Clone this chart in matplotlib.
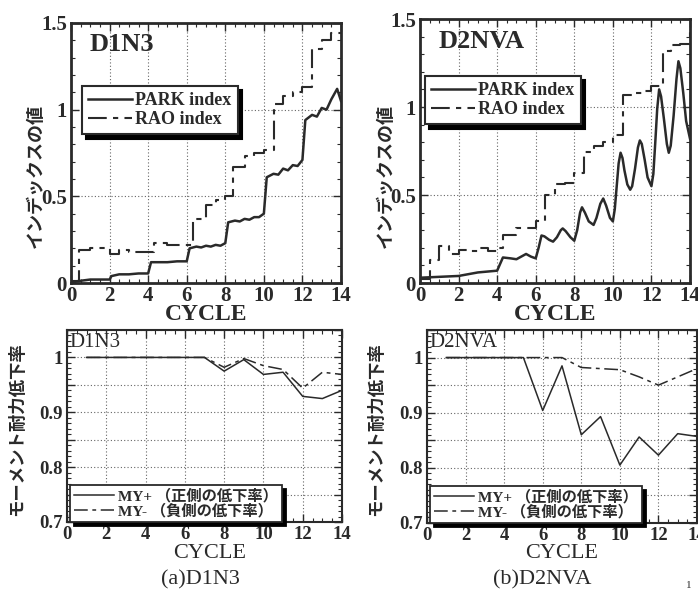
import matplotlib
matplotlib.use("Agg")
import matplotlib.pyplot as plt
from matplotlib.ticker import MultipleLocator, FuncFormatter

# ---- data ----
# D1N3 damage indices
d1_park_x = [0, 0.3, 1, 2, 2.1, 2.5, 3, 3.5, 4, 4.15, 4.5, 5, 5.5, 6, 6.15, 6.5, 6.75, 7, 7.25,
             7.5, 7.75, 8, 8.15, 8.5, 8.75, 9, 9.25, 9.5, 9.75, 10, 10.15, 10.5, 10.75, 11, 11.25,
             11.5, 11.75, 12, 12.15, 12.5, 12.75, 13, 13.25, 13.5, 13.8, 14]
d1_park_y = [0.0, 0.01, 0.02, 0.02, 0.04, 0.05, 0.05, 0.055, 0.055, 0.12, 0.12, 0.12, 0.125, 0.125,
             0.2, 0.21, 0.205, 0.215, 0.21, 0.22, 0.215, 0.23, 0.35, 0.36, 0.355, 0.37, 0.365, 0.38,
             0.38, 0.40, 0.61, 0.63, 0.625, 0.66, 0.65, 0.68, 0.675, 0.71, 0.94, 0.97, 0.96, 1.01,
             1.0, 1.06, 1.12, 1.05]
d1_rao_x = [0, 0.4, 1.0, 2.0, 2.5, 3.0, 4.3, 5.0, 6.3, 7.0, 7.5, 8.0, 8.4, 9.0, 9.5, 10.0,
            10.5, 11.0, 11.5, 12.0, 12.5, 13.0, 13.5, 14.0]
d1_rao_y = [0.01, 0.19, 0.20, 0.17, 0.19, 0.18, 0.23, 0.22, 0.37, 0.45, 0.48, 0.50, 0.67, 0.73,
            0.75, 0.77, 1.03, 1.08, 1.10, 1.13, 1.35, 1.40, 1.44, 1.44]

# D2NVA damage indices
d2_park_x = [0, 1, 2, 3, 4, 4.2, 4.3, 4.7, 5.0, 5.25, 5.5, 5.75, 6.0,
             6.15, 6.3, 6.45, 6.7, 6.9, 7.1, 7.3, 7.4, 7.55, 7.8, 8.0,
             8.15, 8.3, 8.4, 8.55, 8.75, 9.0, 9.15, 9.35, 9.5, 9.65, 9.85, 10.0,
             10.1, 10.2, 10.3, 10.4, 10.5, 10.6, 10.75, 10.9, 11.0, 11.15, 11.3, 11.4, 11.5,
             11.65, 11.8, 12.0, 12.1, 12.2, 12.3, 12.4, 12.5, 12.65, 12.8, 12.9, 13.0, 13.15,
             13.3, 13.4, 13.5, 13.65, 13.8, 14.0]
d2_park_y = [0.03, 0.035, 0.04, 0.06, 0.07, 0.12, 0.145, 0.14, 0.135, 0.15, 0.165, 0.15, 0.14,
             0.20, 0.27, 0.265, 0.245, 0.235, 0.26, 0.30, 0.31, 0.295, 0.26, 0.24,
             0.30, 0.40, 0.43, 0.40, 0.35, 0.33, 0.37, 0.45, 0.48, 0.44, 0.37, 0.35,
             0.42, 0.55, 0.68, 0.74, 0.71, 0.64, 0.56, 0.53, 0.55, 0.65, 0.77, 0.81, 0.79,
             0.70, 0.60, 0.55, 0.62, 0.80, 0.99, 1.10, 1.06, 0.93, 0.79, 0.74, 0.78, 0.95,
             1.16, 1.26, 1.22, 1.08, 0.92, 0.82]
d2_rao_x = [0, 0.5, 1.0, 1.5, 2.0, 2.5, 3.0, 3.5, 4.0, 4.3, 5.0, 5.5, 6.0, 6.5, 7.0, 7.5, 8.0,
            8.5, 9.0, 9.5, 10.0, 10.5, 11.0, 11.5, 12.0, 12.6, 13.0, 13.5, 14.0]
d2_rao_y = [0.02, 0.13, 0.21, 0.165, 0.19, 0.18, 0.20, 0.18, 0.20, 0.27, 0.31, 0.31, 0.35, 0.50,
            0.56, 0.57, 0.625, 0.745, 0.78, 0.80, 0.84, 1.07, 1.08, 1.09, 1.12, 1.32, 1.35, 1.36,
            1.43]

# strength reduction ratios
cyc = [1, 2, 3, 4, 5, 6, 7, 8, 9, 10, 11, 12, 13, 14]
d1_myp = [1, 1, 1, 1, 1, 1, 1, 0.975, 0.996, 0.969, 0.973, 0.929, 0.925, 0.94]
d1_mym = [1, 1, 1, 1, 1, 1, 1, 0.982, 0.998, 0.985, 0.978, 0.944, 0.973, 0.969]
d2_myp = [1, 1, 1, 1, 1, 0.904, 0.985, 0.86, 0.893, 0.805, 0.856, 0.823, 0.862, 0.857]
d2_mym = [1, 1, 1, 1, 1, 1, 1, 0.982, 0.98, 0.978, 0.965, 0.95, 0.965, 0.98]

SERIF = ["Liberation Serif", "Noto Sans CJK JP"]
JP = ["Noto Sans CJK JP", "DejaVu Sans"]
INK = "#2a2a2a"
DASHDOT = (0, (9, 3, 2.5, 3))

plt.rcParams["font.family"] = SERIF

fig = plt.figure(figsize=(6.98, 5.93), dpi=100)
W, H = 698, 593


def ax_px(l, t, r, b):
    return fig.add_axes([l / W, 1 - b / H, (r - l) / W, (b - t) / H])


def style(ax, ymaj, ymin, xmin, lw, fs, fmt):
    ax.set_xlim(0, 14)
    ax.xaxis.set_major_locator(MultipleLocator(2))
    ax.xaxis.set_minor_locator(MultipleLocator(xmin))
    ax.yaxis.set_major_locator(MultipleLocator(ymaj))
    ax.yaxis.set_minor_locator(MultipleLocator(ymin))
    ax.yaxis.set_major_formatter(FuncFormatter(fmt))
    ax.tick_params(which="both", direction="in", top=True, right=True, color=INK)
    ax.tick_params(which="major", length=6, width=1, pad=3)
    ax.tick_params(which="minor", length=3, width=0.8)
    for lab in ax.get_xticklabels() + ax.get_yticklabels():
        lab.set_fontsize(fs)
        lab.set_fontweight("bold")
        lab.set_color(INK)
    for s in ax.spines.values():
        s.set_linewidth(lw)
        s.set_color(INK)
    ax.grid(True, which="major", linestyle=(0, (1, 2)), color="#666666", linewidth=0.8)
    ax.set_axisbelow(True)


def fmt_top(v, pos):
    if abs(v) < 1e-9:
        return "0"
    if abs(v - round(v)) < 1e-9:
        return "%d" % round(v)
    return "%.1f" % v


def fmt_bot(v, pos):
    r = round(v * 10)
    if abs(v * 10 - r) > 1e-6:
        return ""
    return "1" if r == 10 else "%.1f" % v


shadow = {"ox": 3, "oy": -3, "facecolor": "black", "edgecolor": "black", "alpha": 1}

# ---- top row ----
tops = [
    (ax_px(71, 23, 341, 283), d1_park_x, d1_park_y, d1_rao_x, d1_rao_y, "D1N3", (0.041, 0.758), 35, 206),
    (ax_px(420, 19, 690, 283), d2_park_x, d2_park_y, d2_rao_x, d2_rao_y, "D2NVA", (0.019, 0.784), 385, 555),
]
for ax, px, py, rx, ry, name, anchor, ylx, cx in tops:
    ax.plot(px, py, color=INK, lw=1.8, solid_joinstyle="round", label="PARK index")
    ax.plot(rx, ry, color=INK, lw=1.5, ls=DASHDOT, drawstyle="steps-post", label="RAO index")
    ax.set_ylim(0, 1.5)
    style(ax, 0.5, 0.1, 0.5, 2.0, 15, fmt_top)
    ax.tick_params(axis="x", pad=2)
    ax.text(0.07, 0.96, name, transform=ax.transAxes, ha="left", va="top",
            fontsize=19, fontweight="bold", color=INK)
    leg = ax.legend(loc="upper left", bbox_to_anchor=anchor, borderaxespad=0,
                    frameon=True, fancybox=False, shadow=shadow, handlelength=2.4,
                    handletextpad=0.2, borderpad=0.35, labelspacing=0.1,
                    prop={"family": SERIF, "weight": "bold", "size": 13})
    leg.get_frame().set_edgecolor(INK)
    leg.get_frame().set_linewidth(1.5)
    for t in leg.get_texts():
        t.set_color(INK)
    fig.text(ylx / W, 1 - 176 / H, "インデックスの値", rotation=90, ha="center", va="center",
             fontsize=13, fontweight="bold", family=JP, color=INK)
    fig.text(cx / W, 1 - 315 / H, "CYCLE", ha="center", va="center",
             fontsize=17, fontweight="bold", color=INK)

# ---- bottom row ----
bots = [
    (ax_px(67, 330, 342, 522), d1_myp, d1_mym, "D1N3", 17, 210, "(a)D1N3", 200),
    (ax_px(427, 330, 697, 523), d2_myp, d2_mym, "D2NVA", 376, 562, "(b)D2NVA", 542),
]
for ax, yp, ym, name, ylx, cx, cap, capx in bots:
    ax.plot(cyc, yp, color=INK, lw=1.1, label="MY+ （正側の低下率）")
    ax.plot(cyc, ym, color=INK, lw=1.1, ls=DASHDOT, label="MY- （負側の低下率）")
    ax.set_ylim(0.7, 1.05)
    style(ax, 0.05, 0.01, 0.5, 1.5, 13.5, fmt_bot)
    ax.text(0.01, 0.985, name, transform=ax.transAxes, ha="left", va="top",
            fontsize=15, color=INK)
    leg = ax.legend(loc="lower left", bbox_to_anchor=(0.012, 0.0), borderaxespad=0,
                    frameon=True, fancybox=False, shadow=shadow, handlelength=2.6,
                    handletextpad=0.3, borderpad=0.25, labelspacing=0.0,
                    prop={"family": SERIF, "weight": "bold", "size": 11})
    leg.get_frame().set_edgecolor(INK)
    leg.get_frame().set_linewidth(1.3)
    for t in leg.get_texts():
        t.set_color(INK)
    fig.text(ylx / W, 1 - 429 / H, "モーメント耐力低下率", rotation=90, ha="center", va="center",
             fontsize=12.5, fontweight="bold", family=JP, color=INK)
    fig.text(cx / W, 1 - 553 / H, "CYCLE", ha="center", va="center",
             fontsize=16, color=INK)
    fig.text(capx / W, 1 - 580 / H, cap, ha="center", va="center",
             fontsize=16, color=INK)

fig.text(689 / W, 1 - 586 / H, "1", ha="center", va="center", fontsize=8, color=INK)

fig.savefig("out.png", dpi=100)
